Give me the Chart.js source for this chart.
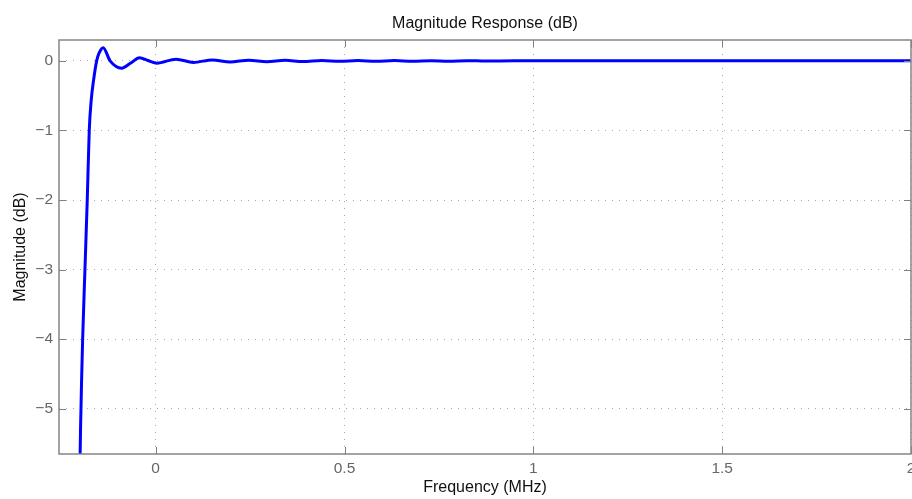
<!DOCTYPE html>
<html>
<head>
<meta charset="utf-8">
<script src="https://cdn.jsdelivr.net/npm/chart.js@4/dist/chart.umd.min.js"></script>
<style>
  html, body { margin: 0; padding: 0; background: #ffffff; overflow: hidden; }
  #wrap { width: 912px; height: 499px; }
</style>
</head>
<body>
<div id="wrap"><canvas id="c" width="912" height="499"></canvas></div>
<script>
// ---- Data ----
const frequencyMHz = [
  -0.2010, -0.1990, -0.1960, -0.1934, -0.1873, -0.1812, -0.1759, -0.1706, -0.1645,
  -0.1563, -0.1500, -0.1390, -0.1207, -0.0900, -0.0660, -0.0430, -0.0200,
   0.0030,  0.0540,  0.1000,  0.1500,  0.1970,  0.2470,  0.2940,  0.3430,
   0.3900,  0.4400,  0.4870,  0.5360,  0.5830,  0.6330,  0.6800,  0.7290,
   0.7760,  0.8260,  0.8730,  0.9500,  1.2000,  1.5000,  1.8000,  2.0000
];
const magnitudeDb = [
  -6.00, -5.30, -4.55, -4.00, -3.00, -2.00, -1.00, -0.56, -0.28,
   0.00,  0.11,  0.19,  0.00, -0.105, -0.03,  0.045,  0.005,
  -0.033, 0.024, -0.022, 0.014, -0.015, 0.010, -0.012, 0.008,
  -0.009, 0.006, -0.007, 0.005, -0.006, 0.004, -0.005, 0.003,
  -0.004, 0.003, -0.003, 0.000, 0.000, 0.000, 0.000, 0.000
];
const xTickValues = [0, 0.5, 1, 1.5, 2];
const xTickLabels = ['0', '0.5', '1', '1.5', '2'];
const yTickValues = [-5, -4, -3, -2, -1, 0];
const yTickLabels = ['\u22125', '\u22124', '\u22123', '\u22122', '\u22121', '0'];
const chartTitle = 'Magnitude Response (dB)';
const xAxisTitle = 'Frequency (MHz)';
const yAxisTitle = 'Magnitude (dB)';

const FONT = "'Liberation Sans', Arial, Helvetica, sans-serif";
const X_MIN = -0.256, X_MAX = 2;

const framePlugin = {
  id: 'frame',
  afterDatasetsDraw(chart) {
    const { ctx, chartArea: a, scales } = chart;
    const xs = scales.x, ys = scales.y;
    ctx.save();
    ctx.strokeStyle = '#808080';
    ctx.lineWidth = 1;
    const tl = 7;
    ctx.beginPath();
    xTickValues.forEach(v => {
      const p = Math.round(xs.getPixelForValue(v)) + 0.5;
      ctx.moveTo(p, a.bottom); ctx.lineTo(p, a.bottom - tl);
      ctx.moveTo(p, a.top); ctx.lineTo(p, a.top + tl);
    });
    yTickValues.forEach(v => {
      const p = Math.round(ys.getPixelForValue(v)) + 0.5;
      ctx.moveTo(a.left, p); ctx.lineTo(a.left + tl, p);
      ctx.moveTo(a.right, p); ctx.lineTo(a.right - tl, p);
    });
    ctx.stroke();
    ctx.lineWidth = 1.5;
    ctx.strokeStyle = '#858585';
    ctx.strokeRect(a.left, a.top, a.right - a.left, a.bottom - a.top);
    ctx.restore();
  }
};

new Chart(document.getElementById('c'), {
  type: 'line',
  data: {
    datasets: [{
      data: frequencyMHz.map((f, i) => ({ x: f, y: magnitudeDb[i] })),
      borderColor: '#0000ff',
      borderWidth: 3,
      pointRadius: 0,
      fill: false,
      cubicInterpolationMode: 'monotone'
    }]
  },
  options: {
    responsive: false,
    animation: false,
    devicePixelRatio: 1,
    layout: { padding: { left: 0, right: 1, top: 0, bottom: 0 } },
    plugins: {
      legend: { display: false },
      tooltip: { enabled: false },
      title: { display: false }
    },
    scales: {
      x: {
        type: 'linear',
        position: 'bottom',
        min: X_MIN,
        max: X_MAX,
        afterBuildTicks: s => { s.ticks = xTickValues.map(v => ({ value: v })); },
        afterFit: s => { s.height = 45; s.paddingLeft = 0; s.paddingRight = 0; },
        ticks: {
          autoSkip: false,
          maxRotation: 0,
          padding: 5,
          color: '#666666',
          font: { family: FONT, size: 15.5 },
          callback: v => xTickLabels[xTickValues.indexOf(v)]
        },
        grid: { color: '#a8a8a8', lineWidth: 1, drawTicks: false },
        border: { display: false, dash: [1, 6] },
        title: {
          display: true,
          text: xAxisTitle,
          color: '#111111',
          font: { family: FONT, size: 16 },
          padding: { top: 0, bottom: 1.5 }
        }
      },
      xTop: {
        type: 'linear',
        position: 'top',
        min: X_MIN,
        max: X_MAX,
        afterFit: s => { s.height = 40; s.paddingLeft = 0; s.paddingRight = 0; },
        ticks: { display: false },
        grid: { display: false, drawTicks: false },
        border: { display: false },
        title: {
          display: true,
          text: chartTitle,
          color: '#111111',
          font: { family: FONT, size: 16 },
          padding: { top: 13.9, bottom: 0 }
        }
      },
      y: {
        type: 'linear',
        min: -5.65,
        max: 0.30,
        afterBuildTicks: s => { s.ticks = yTickValues.map(v => ({ value: v })); },
        afterFit: s => { s.width = 59; s.paddingTop = 0; s.paddingBottom = 0; },
        ticks: {
          autoSkip: false,
          padding: 6,
          color: '#666666',
          font: { family: FONT, size: 15.5 },
          callback: v => yTickLabels[yTickValues.indexOf(v)]
        },
        grid: { color: '#a8a8a8', lineWidth: 1, drawTicks: false },
        border: { display: false, dash: [1, 6] },
        title: {
          display: true,
          text: yAxisTitle,
          color: '#111111',
          font: { family: FONT, size: 16 },
          padding: { top: 11, bottom: 0 }
        }
      }
    }
  },
  plugins: [framePlugin]
});
</script>
</body>
</html>
